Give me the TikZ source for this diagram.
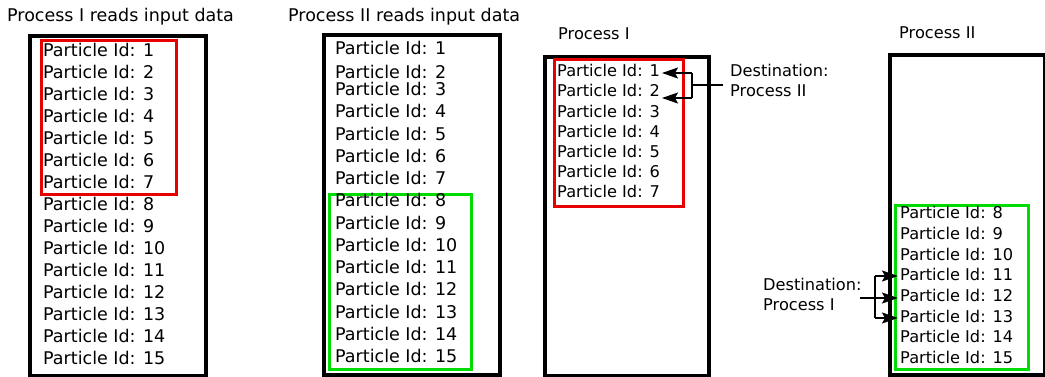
\documentclass[tikz,border=0pt]{standalone}
\usepackage{fontspec}
\setmainfont{DejaVu Sans}
\usetikzlibrary{arrows.meta}
\definecolor{boxred}{RGB}{230,0,0}
\definecolor{boxgreen}{RGB}{0,220,0}
\tikzset{arrowtip/.tip={Stealth[length=16pt,width=11pt,inset=3pt]}}
\begin{document}
\begin{tikzpicture}[x=1pt,y=-1pt,
  bigbox/.style={draw=black, line width=3.5pt, inner sep=0pt, anchor=north west},
  redbox/.style={draw=boxred, line width=2.5pt, inner sep=0pt, anchor=north west},
  greenbox/.style={draw=boxgreen, line width=2.5pt, inner sep=0pt, anchor=north west},
  ptxt/.style={anchor=west, inner sep=0pt, text height=0.729em, text depth=0pt},
  Lfont/.style={font=\fontsize{17.5}{20}\selectfont},
  Sfont/.style={font=\fontsize{16.2}{19}\selectfont},
  link/.style={line width=1.5pt},
  arr/.style={line width=1.5pt, -arrowtip},
]
\useasboundingbox (0,0) rectangle (1045,376);

% frames
\node[bigbox, minimum width=176pt, minimum height=340pt] (box1) at (28,34) {};
\node[redbox, minimum width=135pt, minimum height=154pt] (red1) at (40,39) {};
\node[bigbox, minimum width=176pt, minimum height=340pt] (box2) at (322,33) {};
\node[greenbox, minimum width=142pt, minimum height=175pt] (green2) at (328,193) {};
\node[bigbox, minimum width=164pt, minimum height=319pt] (box3) at (543,55) {};
\node[redbox, minimum width=129pt, minimum height=147pt] (red3) at (553,58) {};
\node[bigbox, minimum width=155pt, minimum height=320pt] (box4) at (888,53) {};
\node[greenbox, minimum width=133pt, minimum height=164pt] (green4) at (894,204) {};

% titles
\node[ptxt, Lfont] (t1) at (7,18) {Process I reads input data};
\node[ptxt, Lfont] (t2) at (288,18) {Process II reads input data};
\node[ptxt, Sfont] (t3) at (558,36) {Process I};
\node[ptxt, Sfont] (t4) at (899,35) {Process II};

% box 1 texts
\foreach \i in {1,...,15} {
  \node[ptxt, Lfont] (p1-\i) at (43,{53+22*(\i-1)}) {Particle Id: \i};
}
% box 2 texts
\foreach \i/\y in {1/51,2/75,3/92,4/114,5/137,6/159,7/181,8/203,9/226,10/248,11/270,12/292,13/315,14/337,15/359} {
  \node[ptxt, Lfont] (p2-\i) at (335,\y) {Particle Id: \i};
}
% box 3 texts
\foreach \i in {1,...,7} {
  \node[ptxt, Sfont] (p3-\i) at (557,{73+20.2*(\i-1)}) {Particle Id: \i};
}
% box 4 texts
\foreach \i in {8,...,15} {
  \node[ptxt, Sfont] (p4-\i) at (900,{215+20.7*(\i-8)}) {Particle Id: \i};
}

% destination labels
\node[ptxt, Sfont] (d3a) at (730,73) {Destination:};
\node[ptxt, Sfont] (d3b) at (730,93) {Process II};
\node[ptxt, Sfont] (d4a) at (763,287) {Destination:};
\node[ptxt, Sfont] (d4b) at (763,307) {Process I};

% arrows process I
\coordinate (b3top) at (692,73);
\coordinate (b3bot) at (692,98);
\coordinate (b3mid) at (692,85);
\coordinate (b3src) at (723,85);
\coordinate (tip31) at (662,73);
\coordinate (tip32) at (662,98);
\draw[link] (b3src) -- (b3mid);
\draw[link] (b3top) -- (b3bot);
\draw[arr] (b3top) -- (tip31);
\draw[arr] (b3bot) -- (tip32);

% arrows process II
\coordinate (b4top) at (875,276);
\coordinate (b4bot) at (875,318);
\coordinate (b4src) at (860,298);
\coordinate (tip411) at (898,276);
\coordinate (tip412) at (898,298);
\coordinate (tip413) at (898,318);
\draw[link] (b4top) -- (b4bot);
\draw[arr] (b4top) -- (tip411);
\draw[arr] (b4src) -- (tip412);
\draw[arr] (b4bot) -- (tip413);
\end{tikzpicture}
\end{document}
